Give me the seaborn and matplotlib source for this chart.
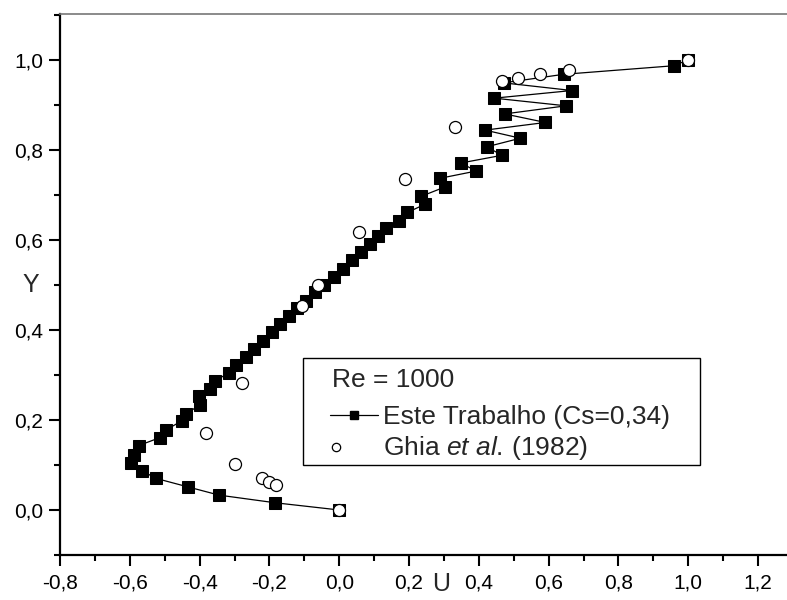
import matplotlib
matplotlib.use("Agg")
import matplotlib.pyplot as plt
import seaborn as sns
import pandas as pd
from matplotlib.ticker import MultipleLocator, FuncFormatter
from matplotlib.lines import Line2D
from matplotlib.patches import Rectangle

# ---------------- data ----------------
este_U = [0.0, -0.183, -0.344, -0.432, -0.524, -0.565, -0.597, -0.589, -0.575, -0.513,
          -0.496, -0.451, -0.438, -0.398, -0.402, -0.370, -0.357, -0.316, -0.297, -0.266,
          -0.244, -0.217, -0.193, -0.169, -0.145, -0.121, -0.095, -0.069, -0.043, -0.016,
          0.011, 0.036, 0.062, 0.087, 0.110, 0.135, 0.170, 0.195, 0.245, 0.235,
          0.304, 0.289, 0.392, 0.349, 0.466, 0.423, 0.519, 0.418, 0.591, 0.474,
          0.650, 0.444, 0.667, 0.471, 0.643, 0.958, 1.0]
este_Y = [0.0, 0.016, 0.033, 0.051, 0.070, 0.087, 0.105, 0.123, 0.143, 0.161,
          0.178, 0.198, 0.214, 0.234, 0.254, 0.269, 0.286, 0.305, 0.323, 0.341,
          0.358, 0.376, 0.395, 0.414, 0.431, 0.448, 0.465, 0.484, 0.501, 0.517,
          0.536, 0.555, 0.573, 0.590, 0.608, 0.626, 0.643, 0.661, 0.679, 0.697,
          0.718, 0.737, 0.753, 0.771, 0.788, 0.807, 0.826, 0.844, 0.861, 0.880,
          0.898, 0.915, 0.932, 0.949, 0.968, 0.987, 1.0]

ghia_U = [1.0, 0.65928, 0.57492, 0.51117, 0.46604, 0.33304, 0.18719, 0.05702, -0.06080,
          -0.10648, -0.27805, -0.38289, -0.29730, -0.22220, -0.20196, -0.18109, 0.0]
ghia_Y = [1.0, 0.9766, 0.9688, 0.9609, 0.9531, 0.8516, 0.7344, 0.6172, 0.5,
          0.4531, 0.2813, 0.1719, 0.1016, 0.0703, 0.0625, 0.0547, 0.0]

legend_title = "Re = 1000"
label_este = "Este Trabalho (Cs=0,34)"
label_ghia = r"Ghia $\it{et\ al.}\,$(1982)"

# ---------------- style ----------------
sns.set_style("ticks")
plt.rcParams["font.family"] = ["Liberation Sans", "DejaVu Sans"]
plt.rcParams["mathtext.fontset"] = "custom"
plt.rcParams["mathtext.rm"] = "Liberation Sans"
plt.rcParams["mathtext.it"] = "Liberation Sans:italic"

fig = plt.figure(figsize=(7.87, 6.0), dpi=100)
fig.patch.set_facecolor("white")
W, H = 787, 600
left, bottom, top, right = 60, 555, 14, 787
ax = fig.add_axes([left / W, 1 - bottom / H, (right - left) / W, (bottom - top) / H])
ax.set_facecolor("white")

df_e = pd.DataFrame({"U": este_U, "Y": este_Y})
df_g = pd.DataFrame({"U": ghia_U, "Y": ghia_Y})

sns.lineplot(data=df_e, x="U", y="Y", sort=False, estimator=None, ax=ax,
             color="black", linewidth=0.9, marker="s", markersize=8.8,
             markeredgecolor="black", markerfacecolor="black", zorder=2)
sns.scatterplot(data=df_g, x="U", y="Y", ax=ax, marker="o", s=75,
                facecolor="white", edgecolor="black", linewidth=0.9, zorder=3)

ax.set_xlim(-0.8, 1.283)
ax.set_ylim(-0.1, 1.102)

ax.xaxis.set_major_locator(MultipleLocator(0.2))
ax.xaxis.set_minor_locator(MultipleLocator(0.1))
ax.yaxis.set_major_locator(MultipleLocator(0.2))
ax.yaxis.set_minor_locator(MultipleLocator(0.1))

def fmt(v, pos):
    s = "%.1f" % v
    if s == "-0.0":
        s = "0.0"
    return s.replace(".", ",")

ax.xaxis.set_major_formatter(FuncFormatter(fmt))
ax.yaxis.set_major_formatter(FuncFormatter(fmt))

ax.tick_params(axis="both", which="major", direction="out", length=8, width=1.5,
               labelsize=15, color="black", labelcolor="black")
ax.tick_params(axis="both", which="minor", direction="out", length=4, width=1.5,
               color="black")
ax.tick_params(axis="y", which="major", pad=4)
ax.tick_params(axis="x", which="major", pad=5)

for side in ["left", "bottom"]:
    ax.spines[side].set_linewidth(1.6)
    ax.spines[side].set_color("black")
ax.spines["top"].set_visible(True)
ax.spines["top"].set_linewidth(1.2)
ax.spines["top"].set_color("#777777")
ax.spines["right"].set_visible(False)

ax.set_xlabel("U", fontsize=18, va="center")
ax.set_ylabel("Y", fontsize=18, rotation=0, ha="center", va="center")
ax.xaxis.set_label_coords((441 - left) / (right - left), -(584 - bottom) / (bottom - top))
ax.yaxis.set_label_coords((31 - left) / (right - left), 0.5)

# ---------------- legend ----------------
box = Rectangle((303 / W, 1 - 465 / H), (700 - 303) / W, (465 - 358) / H,
                transform=fig.transFigure, facecolor="white", edgecolor="black",
                linewidth=1.0, zorder=5)
fig.patches.append(box)
fig.text(332 / W, 1 - 380 / H, legend_title, fontsize=19, ha="left", va="center",
         zorder=6)

h_e = Line2D([], [], color="black", linewidth=0.9, marker="s", markersize=5.5,
             markerfacecolor="black", markeredgecolor="black")
h_g = Line2D([], [], color="none", linestyle="none")
leg = fig.legend([h_e, h_g], [label_este, label_ghia],
                 loc="upper left", bbox_to_anchor=(330 / W, 1 - 405 / H),
                 bbox_transform=fig.transFigure, fontsize=19,
                 frameon=False, handlelength=1.8, handletextpad=0.2, borderpad=0.0,
                 borderaxespad=0.0, labelspacing=0.2)
leg.set_zorder(7)
# Ghia marker sits at the left of its legend slot, as in the original
fig.add_artist(Line2D([336 / W], [1 - 447 / H], transform=fig.transFigure,
                      linestyle="none", marker="o", markersize=6,
                      markerfacecolor="white", markeredgecolor="black",
                      markeredgewidth=0.9, zorder=8))

fig.savefig("out.png", dpi=100, facecolor="white")
